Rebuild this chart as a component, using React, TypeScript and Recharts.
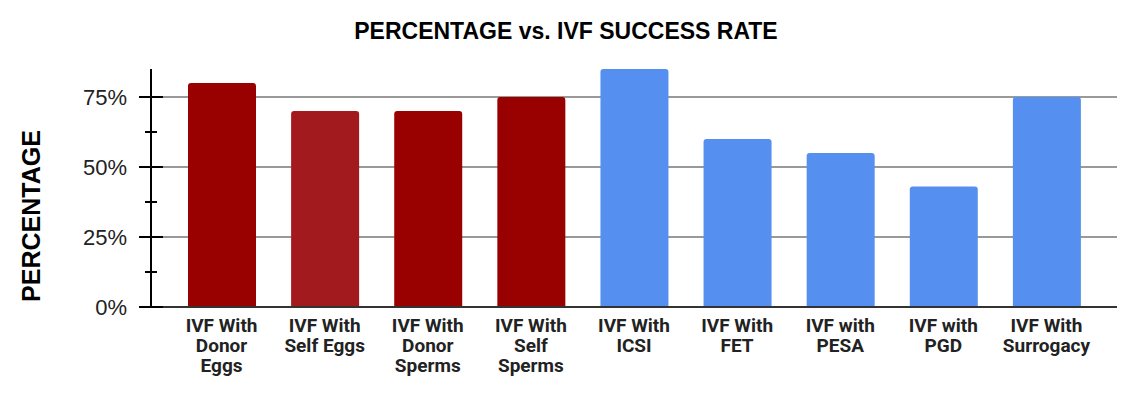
import React from "react";
import { BarChart, Bar, XAxis, YAxis, CartesianGrid, Cell } from "recharts";

const categories = [
  "IVF With\nDonor\nEggs",
  "IVF With\nSelf Eggs",
  "IVF With\nDonor\nSperms",
  "IVF With\nSelf\nSperms",
  "IVF With\nICSI",
  "IVF With\nFET",
  "IVF with\nPESA",
  "IVF with\nPGD",
  "IVF With\nSurrogacy",
];
const successRate = [80, 70, 70, 75, 85, 60, 55, 43, 75];
const barColors = [
  "#990000",
  "#a31a1e",
  "#990000",
  "#990000",
  "#5590f0",
  "#5590f0",
  "#5590f0",
  "#5590f0",
  "#5590f0",
];
const majorTicks = [0, 25, 50, 75];
const minorTicks = [12.5, 37.5, 62.5];
const gridValues = [25, 50, 75];

const data = categories.map((name, i) => ({ name, value: successRate[i] }));

const YTick = (props: any) => {
  const { x, y, payload } = props;
  const major = majorTicks.includes(payload.value);
  if (!major) {
    return <line x1={x - 6} x2={x + 6} y1={y} y2={y} stroke="#000" strokeWidth={2} />;
  }
  return (
    <g>
      <line x1={x - 12} x2={x + 12} y1={y} y2={y} stroke="#000" strokeWidth={2} />
      <text
        x={x - 24}
        y={y}
        dy={8}
        textAnchor="end"
        fontFamily="'Liberation Sans', Arial, sans-serif"
        fontSize={22}
        fill="#222"
      >
        {payload.value}%
      </text>
    </g>
  );
};

const XTick = (props: any) => {
  const { x, y, payload } = props;
  const lines = String(payload.value).split("\n");
  return (
    <text
      x={x}
      y={y}
      textAnchor="middle"
      fontFamily="Roboto, sans-serif"
      fontWeight={700}
      fontSize={19}
      fill="#222"
    >
      {lines.map((l, i) => (
        <tspan key={i} x={x} dy={i === 0 ? 25 : 20}>
          {l}
        </tspan>
      ))}
    </text>
  );
};

export default function App() {
  return (
    <div style={{ position: "absolute", left: 0, top: 0, width: 1135, height: 395, background: "#fff" }}>
      <div
        style={{
          position: "absolute",
          left: 0,
          width: 1132,
          top: 18,
          textAlign: "center",
          fontFamily: "'Liberation Sans', Arial, sans-serif",
          fontWeight: 700,
          fontSize: 23,
          color: "#000",
        }}
      >
        PERCENTAGE vs. IVF SUCCESS RATE
      </div>
      <div
        style={{
          position: "absolute",
          left: 31,
          top: 216,
          transform: "translate(-50%, -50%) rotate(-90deg)",
          fontFamily: "'Liberation Sans', Arial, sans-serif",
          fontWeight: 700,
          fontSize: 25,
          color: "#000",
          whiteSpace: "nowrap",
        }}
      >
        PERCENTAGE
      </div>
      <BarChart
        width={1135}
        height={395}
        data={data}
        margin={{ top: 69, right: 18, bottom: 58, left: 0 }}
      >
        <CartesianGrid
          horizontal
          vertical={false}
          horizontalValues={gridValues}
          stroke="#999"
          strokeWidth={2}
        />
        <XAxis
          dataKey="name"
          interval={0}
          height={30}
          padding={{ left: 19, right: 19 }}
          axisLine={{ stroke: "#333", strokeWidth: 2 }}
          tickLine={false}
          tickSize={0}
          tickMargin={0}
          tick={<XTick />}
        />
        <YAxis
          width={151}
          domain={[0, 85]}
          ticks={[...majorTicks, ...minorTicks].sort((a, b) => a - b)}
          interval={0}
          axisLine={{ stroke: "#000", strokeWidth: 2 }}
          tickLine={false}
          tickSize={0}
          tickMargin={0}
          tick={<YTick />}
        />
        <Bar dataKey="value" barSize={68} radius={[3, 3, 0, 0]} isAnimationActive={false}>
          {data.map((d, i) => (
            <Cell key={d.name} fill={barColors[i]} />
          ))}
        </Bar>
      </BarChart>
    </div>
  );
}
